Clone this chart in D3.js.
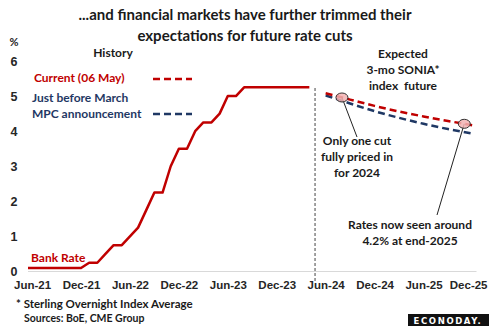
<!DOCTYPE html>
<html>
<head>
<meta charset="utf-8">
<title>Bank Rate and SONIA futures</title>
<script src="https://cdn.jsdelivr.net/npm/d3@7"></script>
<style>
  body { margin: 0; background: #fff; }
  svg { display: block; font-family: Lato, "Open Sans", sans-serif; font-weight: bold; }
  svg text { white-space: pre; }
  .tick text { fill: #262626; }
</style>
</head>
<body>
<svg id="chart" width="489" height="326"></svg>
<script>
// month index 0 = Jun-21
var monthLabels = ["Jun-21","Dec-21","Jun-22","Dec-22","Jun-23","Dec-23","Jun-24","Dec-24","Jun-25","Dec-25"];
var yTicks = [0, 1, 2, 3, 4, 5, 6];

// Bank Rate, monthly Jun-21 .. Apr-24
var bankRate = [0.1,0.1,0.1,0.1,0.1,0.1,0.1,
  0.25,0.25,0.5,0.75,0.75,1.0,1.25,1.75,2.25,2.25,3.0,3.5,
  3.5,4.0,4.25,4.25,4.5,5.0,5.0,5.25,5.25,5.25,5.25,5.25,
  5.25,5.25,5.25,5.25];

// 3-mo SONIA futures, quarterly Jun-24 .. Dec-25
var futMonths = [36, 39, 42, 45, 48, 51, 54];
var futCurrent = [5.08, 4.90, 4.72, 4.56, 4.42, 4.29, 4.17];
var futMarch = [5.02, 4.79, 4.57, 4.38, 4.21, 4.06, 3.93];

var dividerMonth = 34.7;       // 06 May 2024
var calloutMonths = [38, 53];  // Aug-24, Nov-25 on current curve

var svg = d3.select("#chart");
var W = +svg.attr("width");
var red = "#c00000", navy = "#1f3864", ink = "#1a1a1a";

var x = d3.scaleLinear().domain([-0.5, 54.5]).range([28, 476.5]);
var y = d3.scaleLinear().domain([0, 6]).range([271.5, 61]);

// title
svg.append("text").attr("x", 245).attr("y", 20).attr("text-anchor", "middle")
  .attr("font-size", 15).attr("fill", ink)
  .text("...and financial markets have further trimmed their");
svg.append("text").attr("x", 245).attr("y", 41).attr("text-anchor", "middle")
  .attr("font-size", 15).attr("fill", ink)
  .text("expectations for future rate cuts");

// y axis labels only
var yAxis = d3.axisLeft(y).tickValues(yTicks).tickFormat(d3.format("d")).tickSize(0).tickPadding(0);
svg.append("g").attr("transform", "translate(14,0)").call(yAxis)
  .call(g => g.select(".domain").remove())
  .selectAll("text").attr("text-anchor", "middle").attr("font-size", 12.5)
  .attr("font-family", null);
svg.append("text").attr("x", 14).attr("y", 46).attr("text-anchor", "middle")
  .attr("font-size", 11).attr("fill", "#262626").text("%");

// baseline
svg.append("line").attr("x1", x.range()[0]).attr("x2", x.range()[1])
  .attr("y1", y(0)).attr("y2", y(0)).attr("stroke", "#d9d9d9").attr("stroke-width", 1);

// x axis labels; the last one is pulled in from the right edge
var xTicks = d3.range(0, 55, 6);
var xAxis = d3.axisBottom(x).tickValues(xTicks).tickSize(0).tickPadding(0)
  .tickFormat((d, i) => monthLabels[i]);
svg.append("g").attr("transform", "translate(0,281)").call(xAxis)
  .call(g => g.select(".domain").remove())
  .selectAll("text").attr("font-size", 11.5).attr("font-family", null)
  .filter(d => d === xTicks[xTicks.length - 1])
  .attr("text-anchor", "end").attr("dx", d => W - 2 - x(d));

// divider between history and expectations
svg.append("line").attr("x1", x(dividerMonth)).attr("x2", x(dividerMonth))
  .attr("y1", 88).attr("y2", 283).attr("stroke", "#444").attr("stroke-width", 1)
  .attr("stroke-dasharray", "3,2");

// history line
var hist = [[x.domain()[0], bankRate[0]]].concat(bankRate.map((v, i) => [i, v]));
var line = d3.line().x(d => x(d[0])).y(d => y(d[1]));
svg.append("path").datum(hist).attr("d", line).attr("fill", "none")
  .attr("stroke", red).attr("stroke-width", 2.5).attr("stroke-linejoin", "round");

// futures curves
var curve = d3.line().curve(d3.curveMonotoneX).x(d => x(d[0])).y(d => y(d[1]));
[[futMarch, navy], [futCurrent, red]].forEach(function(s) {
  svg.append("path").datum(futMonths.map((m, i) => [m, s[0][i]])).attr("d", curve)
    .attr("fill", "none").attr("stroke", s[1]).attr("stroke-width", 2.5)
    .attr("stroke-dasharray", "7,4");
});

// callouts on current curve
function curAt(m) {
  return d3.scaleLinear().domain(futMonths).range(futCurrent)(m);
}
var leaders = [[357, 137], [437, 215]];
calloutMonths.forEach(function(m, i) {
  var cx = x(m), cy = y(curAt(m));
  svg.append("line").attr("x1", cx).attr("y1", cy).attr("x2", leaders[i][0]).attr("y2", leaders[i][1])
    .attr("stroke", "#222").attr("stroke-width", 1);
  svg.append("ellipse").attr("cx", cx).attr("cy", cy).attr("rx", 6).attr("ry", 4.5)
    .attr("fill", "#f2b3b3").attr("fill-opacity", 0.85).attr("stroke", "#333").attr("stroke-width", 1);
});

function block(lines, cx, y0, lh, color, size) {
  var t = svg.append("text").attr("text-anchor", "middle").attr("font-size", size).attr("fill", color);
  lines.forEach((s, i) => t.append("tspan").attr("x", cx).attr("y", y0 + i * lh).text(s));
}
block(["History"], 113, 57, 16, ink, 12);
block(["Expected", "3-mo SONIA*", "index  future"], 403, 58, 16, ink, 12);
block(["Only one cut", "fully priced in", "for 2024"], 357, 145, 16, ink, 12);
block(["Rates now seen around", "4.2% at end-2025"], 410, 229, 16, ink, 12);

// legend
svg.append("text").attr("x", 34).attr("y", 82).attr("font-size", 12).attr("fill", red).text("Current (06 May)");
svg.append("text").attr("x", 32).attr("y", 102).attr("font-size", 12).attr("fill", navy).text("Just before March");
svg.append("text").attr("x", 32).attr("y", 118).attr("font-size", 12).attr("fill", navy).text("MPC announcement");
[[79, red], [114, navy]].forEach(function(d) {
  svg.append("line").attr("x1", 153).attr("x2", 192).attr("y1", d[0]).attr("y2", d[0])
    .attr("stroke", d[1]).attr("stroke-width", 2.5).attr("stroke-dasharray", "7,4");
});
svg.append("text").attr("x", 31).attr("y", 262).attr("font-size", 12).attr("fill", red).text("Bank Rate");

// footer
svg.append("text").attr("x", 16).attr("y", 308).attr("font-size", 11.5).attr("fill", ink)
  .text("* Sterling Overnight Index Average");
svg.append("text").attr("x", 24).attr("y", 322).attr("font-size", 10.5).attr("fill", ink)
  .text("Sources: BoE, CME Group");
svg.append("rect").attr("x", 408).attr("y", 314).attr("width", 81).attr("height", 12).attr("fill", "#111");
svg.append("text").attr("x", 448).attr("y", 323.5).attr("text-anchor", "middle").attr("font-size", 8.5)
  .attr("font-family", "DejaVu Sans").attr("font-weight", "bold").attr("letter-spacing", 1.6)
  .attr("fill", "#fff").text("ECONODAY.");
</script>
</body>
</html>
